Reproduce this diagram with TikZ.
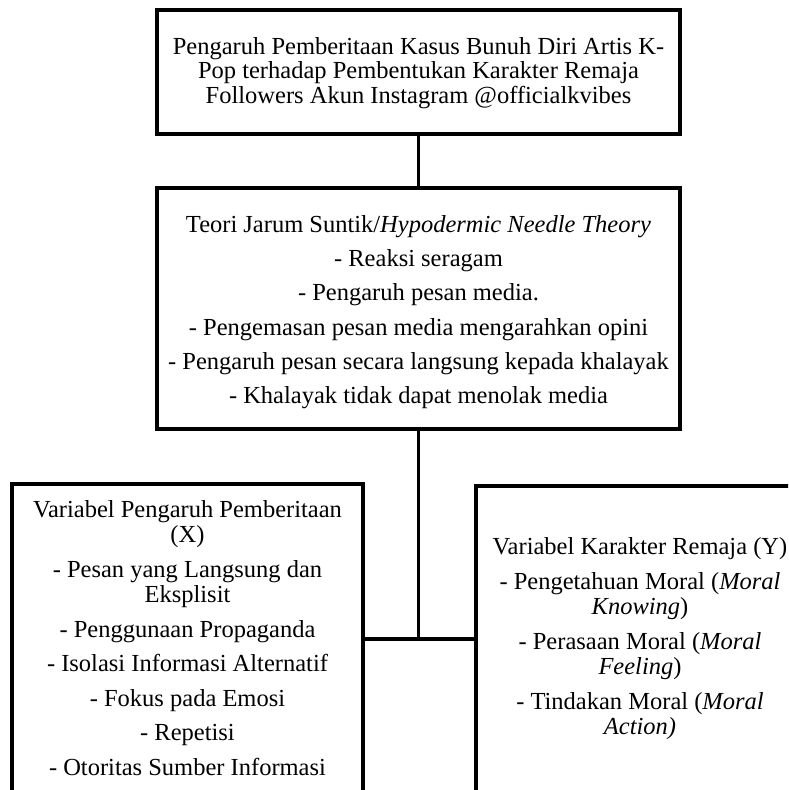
\documentclass[tikz,border=0pt]{standalone}
\usepackage{fontspec}
\setmainfont{Liberation Serif}
\begin{document}
\begin{tikzpicture}[x=1pt,y=-1pt,
  box/.style={draw, line width=3.5pt, inner sep=0pt},
  txt/.style={align=center, inner sep=0pt, font=\fontsize{24.5}{25.5}\selectfont},
  link/.style={line width=3.5pt}]
\useasboundingbox (0,0) rectangle (788,790);
\clip (0,0) rectangle (788,790);
% boxes
\node[box, minimum width=523pt, minimum height=124pt] (top) at (418.5,72) {};
\node[box, minimum width=523pt, minimum height=241pt] (mid) at (418.5,308.5) {};
\node[box, minimum width=351pt, minimum height=312pt] (left) at (187.5,640) {};
\node[box, minimum width=330pt, minimum height=310pt] (right) at (641,641) {};
% connectors
\coordinate (j) at (418.5,639);
\draw[link] (top.south) -- (mid.north);
\draw[link] (mid.south) -- (j);
\draw[link] (left.east |- j) -- (right.west |- j);
% texts
\node[txt, font=\fontsize{24.5}{24.5}\selectfont] (toptext) at (418.5,73)
  {Pengaruh Pemberitaan Kasus Bunuh Diri Artis K-\\Pop terhadap Pembentukan Karakter Remaja\\Followers Akun Instagram @officialkvibes};
\node[txt] (midtext) at (418.5,312)
  {Teori Jarum Suntik/\textit{Hypodermic Needle Theory}\\[8.8pt]
   - Reaksi seragam\\[8.8pt]
   - Pengaruh pesan media.\\[8.8pt]
   - Pengemasan pesan media mengarahkan opini\\[8.8pt]
   - Pengaruh pesan secara langsung kepada khalayak\\[8.8pt]
   - Khalayak tidak dapat menolak media};
\node[txt] (lefttext) at (187.5,638)
  {Variabel Pengaruh Pemberitaan\\(X)\\[9pt]
   - Pesan yang Langsung dan\\Eksplisit\\[9pt]
   - Penggunaan Propaganda\\[9pt]
   - Isolasi Informasi Alternatif\\[9pt]
   - Fokus pada Emosi\\[9pt]
   - Repetisi\\[9pt]
   - Otoritas Sumber Informasi};
\node[txt] (righttext) at (640,639)
  {Variabel Karakter Remaja (Y)\\[9pt]
   - Pengetahuan Moral (\textit{Moral}\\\textit{Knowing})\\[9pt]
   - Perasaan Moral (\textit{Moral}\\\textit{Feeling})\\[9pt]
   - Tindakan Moral (\textit{Moral}\\\textit{Action)}};
\end{tikzpicture}
\end{document}
